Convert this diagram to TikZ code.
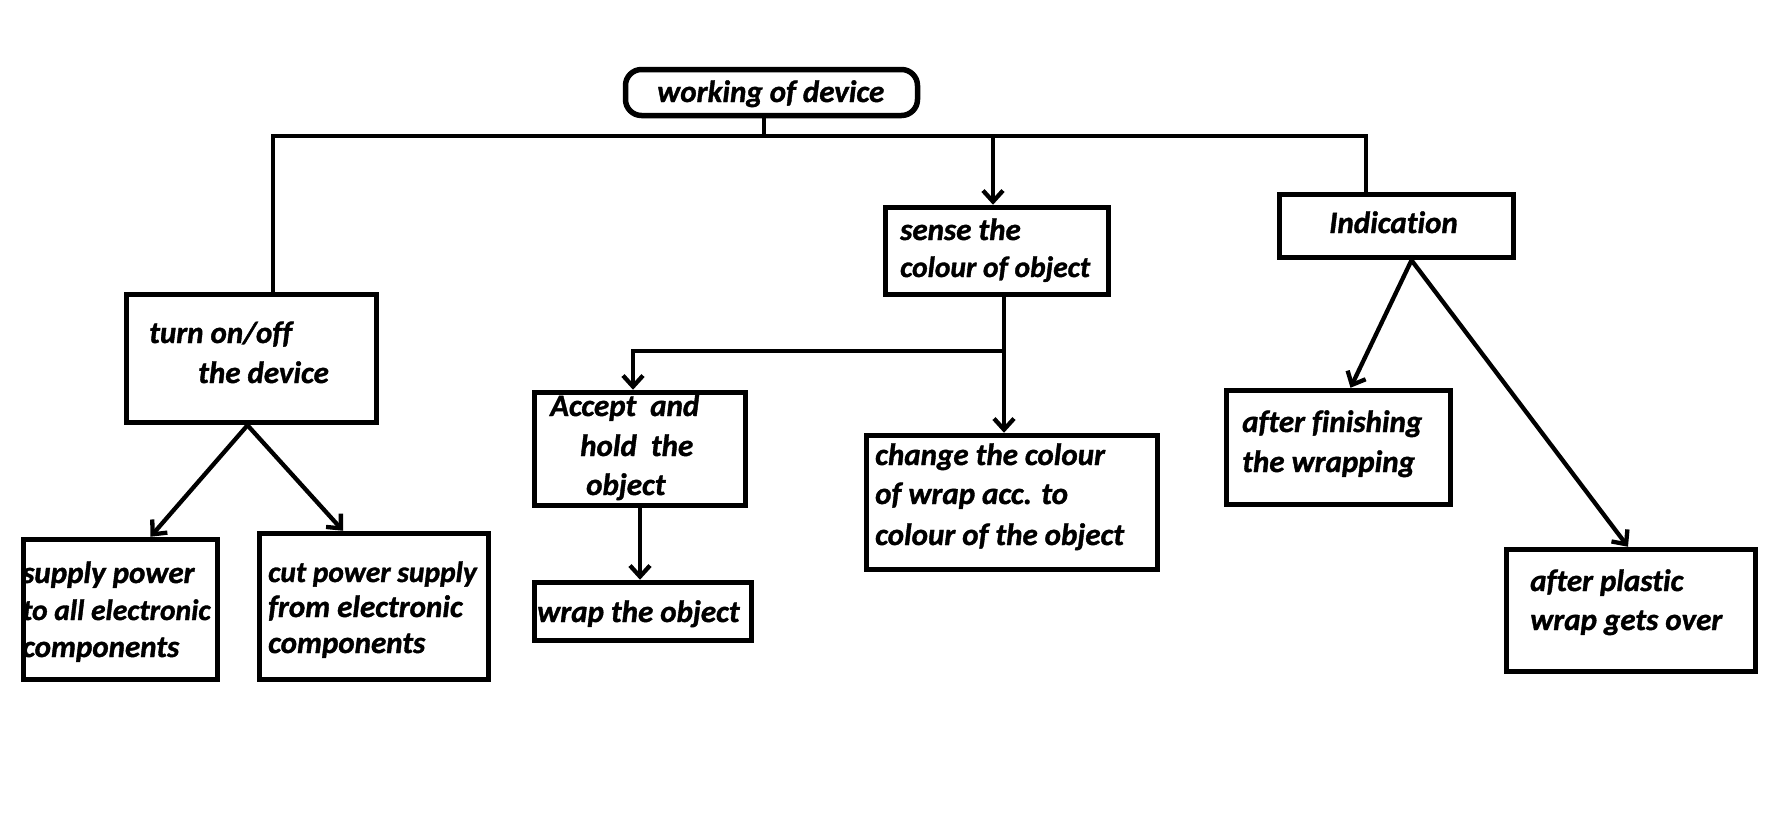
\documentclass[tikz,border=0pt]{standalone}
\usepackage{fontspec}
\setmainfont{Carlito}[Ligatures={NoCommon}, BoldItalicFeatures={FakeBold=1.2}]
\usetikzlibrary{arrows.meta}
\begin{document}
\begin{tikzpicture}[x=1pt,y=-1pt,
  box/.style={draw, line width=5.5pt, inner sep=0pt},
  txt/.style={anchor=base west, inner sep=0pt, font=\fontsize{31}{40}\selectfont\bfseries\itshape},
  tight/.style={font=\fontsize{29.5}{40}\selectfont\bfseries\itshape},
  conn/.style={line width=4.3pt, line join=miter},
  arr/.style={conn, -{Straight Barb[length=11pt,width=20pt]}}]
\fill[white] (0,0) rectangle (1778,814);
\useasboundingbox (0,0) rectangle (1778,814);
% boxes
\node[box, rounded corners=16pt, minimum width=292pt, minimum height=46pt] (root) at (771.5,92.5) {};
\node[box, minimum width=250pt, minimum height=128pt] (turn) at (251.5,358.5) {};
\node[box, minimum width=194pt, minimum height=140pt] (supply) at (120.5,609.5) {};
\node[box, minimum width=229pt, minimum height=146pt] (cut) at (374,606.5) {};
\node[box, minimum width=223pt, minimum height=87pt] (sense) at (997,251) {};
\node[box, minimum width=234pt, minimum height=63pt] (ind) at (1396.5,226) {};
\node[box, minimum width=211pt, minimum height=113pt] (accept) at (640,449) {};
\node[box, minimum width=217pt, minimum height=58pt] (wrap) at (643,611.5) {};
\node[box, minimum width=291pt, minimum height=134pt] (change) at (1012,502.5) {};
\node[box, minimum width=224pt, minimum height=114pt] (fin) at (1338.5,447.5) {};
\node[box, minimum width=249pt, minimum height=122pt] (plastic) at (1631,610.5) {};
% texts
\node[txt] (t0) at (657,102) {working of device};
\node[txt] (t1a) at (149,343) {turn on/off};
\node[txt] (t1b) at (198,383) {the device};
\node[txt] (t2a) at (22,583) {supply power};
\node[txt, tight] (t2b) at (22,620) {to all electronic};
\node[txt] (t2c) at (22,657) {components};
\node[txt, tight] (t3a) at (268,582) {cut power supply};
\node[txt] (t3b) at (268,617) {from electronic};
\node[txt] (t3c) at (268,653) {components};
\node[txt] (t4a) at (900,240) {sense the};
\node[txt, tight] (t4b) at (900,277) {colour of object};
\node[txt] (t5) at (1329,233) {Indication};
\node[txt] (t6a) at (550,416) {Accept\ \ and};
\node[txt] (t6b) at (580,456) {hold\ \ the};
\node[txt] (t6c) at (586,495) {object};
\node[txt] (t7) at (537,622) {wrap the object};
\node[txt] (t8a) at (875,465) {change the colour};
\node[txt] (t8b) at (875,504) {of wrap acc. to};
\node[txt] (t8c) at (875,545) {colour of the object};
\node[txt] (t9a) at (1242,432) {after finishing};
\node[txt] (t9b) at (1242,472) {the wrapping};
\node[txt] (t10a) at (1530,591) {after plastic};
\node[txt] (t10b) at (1530,630) {wrap gets over};
% connector points
\coordinate (bM) at (764,136);
\coordinate (bL) at (273,136);
\coordinate (bR) at (1366,136);
\coordinate (bS) at (993,136);
\coordinate (sM) at (1004,351);
\coordinate (sL) at (633,351);
% connectors
\draw[conn] (root.south -| bM) -- (bM);
\draw[conn] (turn.north -| bL) -- (bL) -- (bR) -- (bR |- ind.north);
\draw[arr] (bS) -- (bS |- sense.north);
\draw[conn] (sense.south -| sM) -- (sM);
\draw[arr] (sM) -- (sM |- change.north);
\draw[arr] (sM) -- (sL) -- (sL |- accept.north);
\draw[arr] (accept.south) -- (accept.south |- wrap.north);
\draw[arr] ([xshift=-4pt]turn.south) -- ([xshift=30pt]supply.north);
\draw[arr] ([xshift=-4pt]turn.south) -- ([xshift=-31pt]cut.north);
\draw[arr] ([xshift=15pt]ind.south) -- ([xshift=12pt]fin.north);
\draw[arr] ([xshift=15pt]ind.south) -- ([xshift=-3pt]plastic.north);
\end{tikzpicture}
\end{document}
